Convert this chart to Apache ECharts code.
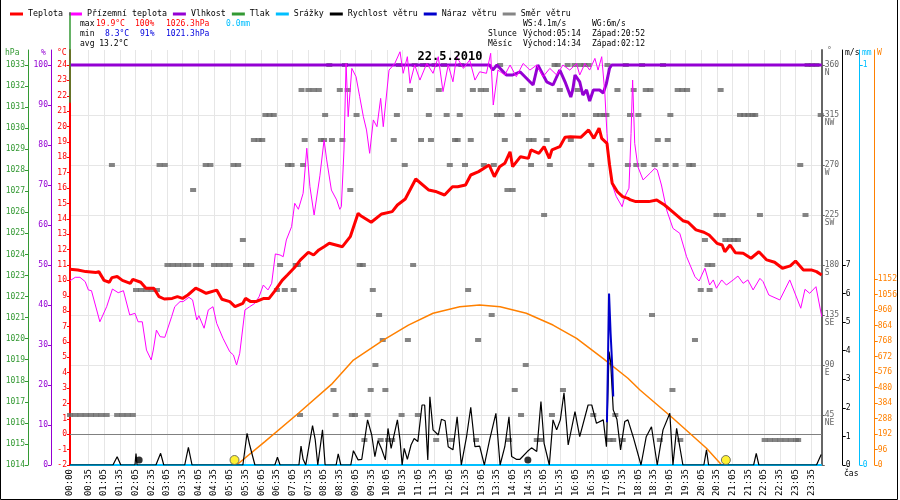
<!DOCTYPE html>
<html lang="cs">
<head>
<meta charset="UTF-8">
<title>Meteo 22.5.2010</title>
<script src="https://cdn.jsdelivr.net/npm/echarts@6.0.0/dist/echarts.min.js"></script>
<style>
html, body { margin: 0; padding: 0; background: #fff; }
#main { width: 900px; height: 500px; }
</style>
</head>
<body>
<div id="main"></div>
<script>
// popisky casove osy
var timeLabels = ['00:00','00:35','01:05','01:35','02:05','02:35','03:05','03:35','04:05','04:35','05:05','05:35',
  '06:05','06:35','07:05','07:35','08:05','08:35','09:05','09:35','10:05','10:35','11:05','11:35',
  '12:05','12:35','13:05','13:35','14:05','14:35','15:05','15:35','16:05','16:35','17:05','17:35',
  '18:05','18:35','19:05','19:35','20:05','20:35','21:05','21:35','22:05','22:35','23:05','23:35'];
var tempTicks = [-2,-1,0,1,2,3,4,5,6,7,8,9,10,11,12,13,14,15,16,17,18,19,20,21,22,23,24];
var humTicks = [0,10,20,30,40,50,60,70,80,90,100];
var pressTicks = [1014,1015,1016,1017,1018,1019,1020,1021,1022,1023,1024,1025,1026,1027,1028,1029,1030,1031,1032,1033];
var dirTicks = [0,45,90,135,180,225,270,315,360];
var dirNames = {45:'NE',90:'E',135:'SE',180:'S',225:'SW',270:'W',315:'NW',360:'N'};
var windTicks = [0,1,2,3,4,5,6,7];
var rainTicks = [0,1];
var radTicks = [0,96,192,288,384,480,576,672,768,864,960,1056,1152];

// Teplota [cas, °C]
var tempData = [['00:00',10.72],['00:15',10.68],['00:30',10.57],['00:50',10.52],['00:55',10.57],['01:05',10.0],['01:15',9.88],['01:20',10.18],
  ['01:30',10.25],['01:40',10.0],['01:55',9.81],['02:00',10.07],['02:15',9.88],['02:25',9.49],['02:40',9.49],['02:50',8.94],['03:00',8.79],
  ['03:15',8.83],['03:25',8.94],['03:35',8.83],['03:45',9.05],['04:00',9.49],['04:10',9.33],['04:20',9.16],['04:40',9.37],['04:50',8.77],
  ['05:05',8.62],['05:15',8.3],['05:30',8.51],['05:35',8.83],['05:45',8.62],['05:55',8.62],['06:10',8.83],['06:20',8.83],['06:30',9.27],
  ['06:45',10.0],['06:55',10.35],['07:10',10.89],['07:20',11.33],['07:35',11.83],['07:45',11.65],['07:55',11.98],['08:05',12.19],['08:15',12.41],
  ['08:40',12.19],['08:55',12.84],['09:10',14.36],['09:15',14.2],['09:35',13.78],['09:55',14.32],['10:15',14.47],['10:25',14.9],['10:40',15.29],
  ['11:00',16.59],['11:25',15.87],['11:40',15.76],['11:55',15.55],['12:10',16.09],['12:20',16.09],['12:35',16.2],['12:45',16.85],['13:00',17.07],
  ['13:20',17.5],['13:30',16.74],['13:40',17.39],['13:50',17.61],['14:00',18.36],['14:05',17.39],['14:20',18.04],['14:35',17.93],['14:40',18.48],
  ['14:55',18.26],['15:05',18.69],['15:15',17.93],['15:20',18.48],['15:35',18.69],['15:45',19.3],['15:55',19.34],['16:15',19.3],['16:30',19.78],
  ['16:40',19.23],['16:50',19.9],['16:55',19.23],['17:05',18.91],['17:10',17.5],['17:15',16.31],['17:25',15.76],['17:35',15.44],['17:45',15.33],
  ['17:50',15.23],['18:00',15.12],['18:25',15.12],['18:40',15.23],['18:55',14.9],['19:10',14.47],['19:30',13.88],['19:40',13.78],['19:55',13.28],
  ['20:10',13.13],['20:20',12.95],['20:35',12.41],['20:45',12.3],['20:50',11.86],['21:00',12.3],['21:10',11.8],['21:25',11.76],['21:40',11.44],
  ['21:55',11.86],['22:10',11.33],['22:25',11.18],['22:40',10.79],['22:55',10.94],['23:05',11.26],['23:20',10.68],['23:35',10.68],['23:45',10.57],['23:55',10.35]];

// Prizemni teplota [cas, °C]
var groundData = [['00:00',9.98],['00:10',10.2],['00:19',10.2],['00:29',9.92],['00:35',9.38],['00:41',9.33],['00:57',7.31],['01:00',7.25],
  ['01:10',8.29],['01:21',9.44],['01:32',9.2],['01:42',9.33],['01:54',7.75],['02:04',7.86],['02:10',7.31],['02:18',7.31],['02:26',5.47],
  ['02:35',4.83],['02:39',5.47],['02:45',6.77],['02:52',6.34],['03:01',6.3],['03:14',7.64],['03:20',8.29],['03:30',8.62],['03:36',8.62],
  ['03:47',8.9],['03:54',8.73],['04:02',7.43],['04:06',7.71],['04:16',6.89],['04:24',8.08],['04:33',8.29],['04:40',7.21],['04:52',6.24],
  ['05:05',5.36],['05:12',5.15],['05:18',4.5],['05:24',5.26],['05:34',8.08],['05:43',8.29],['05:53',8.51],['06:01',8.94],['06:09',9.7],
  ['06:18',9.38],['06:25',9.81],['06:32',11.72],['06:41',11.65],['06:47',11.54],['06:53',12.63],['07:03',13.49],['07:09',15.01],['07:16',14.62],
  ['07:25',15.66],['07:32',18.59],['07:38',16.09],['07:46',14.25],['07:57',16.8],['08:05',19.12],['08:10',17.83],['08:19',15.87],['08:29',15.23],
  ['08:35',14.62],['08:38',14.79],['08:43',18.48],['08:47',24.1],['08:51',20.64],['08:58',23.78],['09:06',23.24],['09:13',21.94],['09:20',20.64],
  ['09:26',19.78],['09:32',18.26],['09:39',20.43],['09:46',19.99],['09:53',21.83],['09:58',19.99],['10:09',23.67],['10:20',24.1],['10:30',24.86],
  ['10:36',23.46],['10:44',24.54],['10:49',22.81],['10:58',24.0],['11:08',23.02],['11:21',24.1],['11:33',23.46],['11:43',24.54],['11:52',22.27],
  ['12:02',24.0],['12:11',22.91],['12:18',24.54],['12:31',23.78],['12:43',24.32],['12:53',23.02],['13:02',23.56],['13:15',23.46],['13:23',24.76],
  ['13:28',21.4],['13:37',23.67],['13:50',23.35],['14:00',24.0],['14:12',23.24],['14:25',24.1],['14:38',23.67],['14:51',24.0],['15:03',23.24],
  ['15:16',23.78],['15:29',23.35],['15:41',24.0],['15:54',23.67],['16:07',24.1],['16:13',23.35],['16:23',24.1],['16:32',23.67],['16:42',24.43],
  ['16:48',23.67],['16:55',24.54],['17:01',22.16],['17:05',19.56],['17:09',17.61],['17:14',16.31],['17:23',15.44],['17:34',14.79],['17:39',15.44],
  ['17:47',15.99],['17:51',19.56],['17:54',23.02],['17:58',18.91],['18:04',17.39],['18:14',16.53],['18:27',16.96],['18:36',17.28],['18:41',17.18],
  ['18:49',16.2],['18:59',14.57],['19:11',13.38],['19:24',13.06],['19:37',11.54],['19:53',10.24],['20:01',9.96],['20:12',10.79],['20:21',9.7],
  ['20:28',10.03],['20:34',9.49],['20:44',10.03],['20:53',9.7],['21:06',10.03],['21:15',10.28],['21:25',9.81],['21:34',10.03],['21:44',9.38],
  ['21:57',10.13],['22:03',9.92],['22:14',9.05],['22:35',8.73],['22:54',10.03],['23:15',8.19],['23:23',9.42],['23:32',9.16],['23:44',9.59],['23:55',7.64]];

// Vlhkost [cas, %]
var humData = [['00:00',100],['13:21',100],['13:27',98.75],['13:35',100],['13:53',97.5],['14:05',97.5],['14:19',98.3],['14:44',95],
  ['14:53',100],['15:10',95.8],['15:22',95],['15:35',98.75],['15:45',95.8],['15:56',92],['16:00',94],['16:04',97.5],['16:13',95.8],
  ['16:19',92.5],['16:26',93.75],['16:32',91],['16:39',93.75],['16:51',93.75],['16:58',93],['17:04',95.4],['17:10',99.2],['17:14',100],['23:55',100]];

// Tlak [cas, hPa]
var pressData = [['00:00',1031.2],['00:00',1035.5]];

// Srazky [cas, mm]
var rainData = [['00:00',0],['23:55',0]];

// Rychlost vetru [cas, m/s]
var windData = [['00:00',0],['01:22',0],['01:30',0.29],['01:37',0],['02:04',0],['02:06',0.4],['02:08',0],['02:44',0],['02:53',0.41],
  ['02:59',0],['03:39',0],['03:46',0.62],['03:53',0],['05:30',0],['05:38',1.11],['05:43',0.7],['05:53',0],['06:31',0],['06:36',0.27],
  ['06:41',0],['07:17',0],['07:21',0.66],['07:25',0.2],['07:30',0],['07:43',1.38],['07:48',0.9],['07:53',0],['08:02',1.23],['08:07',0],
  ['08:28',0],['08:32',0.39],['08:37',0],['08:56',0],['09:01',0.5],['09:10',0.18],['09:17',0.2],['09:28',1.58],['09:36',1.05],['09:42',0.29],
  ['09:48',0.85],['09:55',0.55],['10:02',0.18],['10:07',1.28],['10:13',0.58],['10:16',0.6],['10:25',1.58],['10:30',0.88],['10:34',0],
  ['10:38',0.58],['10:44',0.2],['10:51',0.7],['10:57',0.93],['11:04',0.82],['11:12',2.1],['11:17',2.1],['11:23',0.18],['11:27',2.39],
  ['11:33',1.23],['11:43',1.05],['11:49',1.6],['11:56',1.55],['12:02',0.64],['12:11',0.53],['12:19',1.69],['12:27',0],['12:37',0.99],
  ['12:45',2.02],['12:53',0.64],['13:02',0.66],['13:11',0],['13:21',0.88],['13:33',1.81],['13:41',0],['13:50',0.64],['13:58',1.69],
  ['14:03',0.3],['14:12',0.2],['14:19',0.2],['14:33',0.47],['14:41',0.6],['14:51',0.47],['14:59',2.22],['15:05',0.76],['15:15',0],
  ['15:22',1.58],['15:29',1.23],['15:36',1.58],['15:43',2.53],['15:51',0.7],['16:04',1.87],['16:13',0.99],['16:29',2.1],['16:36',2.1],
  ['16:45',1.46],['16:58',1.58],['17:04',0.64],['17:09',3.97],['17:12',3.62],['17:17',1.93],['17:24',1.6],['17:31',0.53],['17:39',1.52],
  ['17:45',1.58],['17:55',0.99],['18:10',0],['18:20',0.99],['18:30',1.34],['18:41',0],['18:52',1.23],['19:05',1.81],['19:11',0],
  ['19:18',1.28],['19:30',0],['20:10',0],['20:15',0.53],['20:19',0],['21:45',0],['21:50',0.41],['21:55',0],['23:45',0],['23:54',0.37]];

// Naraz vetru [cas, m/s]
var gustData = [['17:05',1.5],['17:09',6.0],['17:12',4.6],['17:15',3.5],['17:17',2.4]];

// Smer vetru [cas, °]
var dirData = [['00:00',45],['00:10',45],['00:20',45],['00:30',45],['00:40',45],['00:50',45],['01:00',45],['01:10',45],['01:20',270],
  ['01:30',45],['01:40',45],['01:50',45],['02:00',45],['02:06',157.5],['02:16',157.5],['02:26',157.5],['02:36',157.5],['02:46',157.5],
  ['02:51',270],['03:01',270],['03:06',180],['03:16',180],['03:26',180],['03:36',180],['03:46',180],['03:55',247.5],['04:00',180],['04:10',180],
  ['04:19',270],['04:28',270],['04:35',180],['04:45',180],['04:55',180],['05:05',180],['05:12',270],['05:21',270],['05:30',202.5],
  ['05:36',180],['05:46',180],['05:51',292.5],['06:00',292.5],['06:07',292.5],['06:13',315],['06:21',315],['06:29',315],['06:35',157.5],
  ['06:41',180],['06:50',157.5],['06:56',270],['07:03',270],['07:07',157.5],['07:11',180],['07:15',180],['07:19',45],['07:22',337.5],
  ['07:25',270],['07:28',292.5],['07:35',337.5],['07:45',337.5],['07:55',337.5],['07:59',292.5],['08:05',292.5],['08:07',315],['08:15',360],
  ['08:20',292.5],['08:23',67.5],['08:27',45],['08:35',337.5],['08:40',292.5],['08:45',360],['08:50',337.5],['08:55',247.5],['08:58',45],
  ['09:04',45],['09:07',315],['09:13',180],['09:19',180],['09:22',22.5],['09:28',45],['09:34',67.5],['09:38',157.5],['09:43',90],['09:50',135],
  ['09:53',22.5],['09:57',112.5],['10:02',67.5],['10:07',22.5],['10:15',22.5],['10:18',292.5],['10:24',315],['10:28',360],['10:33',45],
  ['10:39',270],['10:45',112.5],['10:49',337.5],['10:55',180],['10:58',360],['11:04',45],['11:10',292.5],['11:14',360],['11:20',360],
  ['11:25',315],['11:29',292.5],['11:36',360],['11:39',22.5],['11:44',337.5],['11:54',360],['11:59',315],['12:05',270],['12:08',22.5],
  ['12:15',292.5],['12:20',292.5],['12:24',315],['12:27',360],['12:34',270],['12:40',157.5],['12:45',292.5],['12:49',337.5],['12:55',22.5],
  ['12:59',112.5],['13:04',337.5],['13:10',270],['13:14',337.5],['13:25',135],['13:29',270],['13:35',315],['13:41',360],['13:44',315],
  ['13:50',292.5],['13:55',247.5],['13:58',22.5],['14:05',247.5],['14:09',67.5],['14:15',315],['14:21',45],['14:24',337.5],['14:30',90],
  ['14:36',292.5],['14:40',270],['14:45',292.5],['14:51',22.5],['14:55',337.5],['14:58',22.5],['15:05',225],['15:10',292.5],['15:16',270],
  ['15:20',45],['15:25',360],['15:31',360],['15:35',337.5],['15:41',67.5],['15:45',315],['15:50',360],['15:56',292.5],['15:59',315],
  ['16:03',360],['16:09',337.5],['16:14',360],['16:22',360],['16:30',360],['16:35',270],['16:39',45],['16:44',315],['16:52',315],
  ['17:00',315],['17:04',315],['17:06',360],['17:10',22.5],['17:17',22.5],['17:21',45],['17:25',337.5],['17:31',292.5],['17:35',22.5],
  ['17:41',360],['17:45',270],['17:49',315],['17:56',337.5],['18:01',270],['18:05',315],['18:12',360],['18:15',270],['18:19',337.5],
  ['18:28',337.5],['18:31',135],['18:36',270],['18:42',292.5],['18:46',22.5],['18:52',360],['18:57',270],['19:01',292.5],['19:06',315],
  ['19:10',67.5],['19:16',270],['19:20',337.5],['19:25',22.5],['19:29',337.5],['19:38',337.5],['19:42',270],['19:49',270],['19:53',112.5],
  ['20:04',157.5],['20:12',202.5],['20:17',180],['20:21',157.5],['20:26',180],['20:34',225],['20:42',337.5],['20:46',225],['20:51',202.5],
  ['21:00',202.5],['21:08',202.5],['21:15',202.5],['21:19',315],['21:27',315],['21:35',315],['21:43',315],['21:48',315],['21:57',225],
  ['22:06',22.5],['22:16',22.5],['22:26',22.5],['22:36',22.5],['22:46',22.5],['22:56',22.5],['23:06',22.5],['23:10',22.5],['23:14',270],
  ['23:24',225],['23:28',360],['23:36',360],['23:45',360],['23:53',315]];

// slunecni zareni [cas, W]
var radData = [['05:18',0],['06:12',145],['07:16',321],['08:19',500],['09:01',651],['09:58',775],['10:46',868],['11:33',941],
  ['12:24',982],['13:02',993],['13:41',982],['14:31',941],['15:22',868],['16:07',785],['16:58',660],['17:45',538],['18:08',465],
  ['19:11',290],['20:15',104],['20:44',0]];

// vychod / zapad
var sunTimes = ['05:14','20:52'];
var moonTimes = ['02:12','14:34'];

var FONT = 'DejaVu Sans Mono';

function toMin(s) {
    var p = s.split(':');
    return parseInt(p[0], 10) * 60 + parseInt(p[1], 10);
}
function pairs(arr) {
    return arr.map(function(d) { return [toMin(d[0]), d[1]]; });
}
function hhmm(v) {
    var h = Math.floor(v / 60), m = v % 60;
    return (h < 10 ? '0' : '') + h + ':' + (m < 10 ? '0' : '') + m;
}
function plain(v) {
    return String(v);
}

var labelMins = timeLabels.map(toMin);

function yAx(o) {
    return {
        type: 'value',
        position: o.pos,
        offset: o.offset,
        min: o.min,
        max: o.max,
        axisLine: { show: true, onZero: false, lineStyle: { color: o.color, width: o.lw || 1 } },
        axisTick: { show: true, length: 3, customValues: o.ticks, lineStyle: { color: o.color } },
        axisLabel: {
            customValues: o.ticks,
            color: o.color,
            fontFamily: FONT,
            fontSize: 8,
            margin: 3,
            formatter: o.fmt || plain
        },
        splitLine: o.split ? { show: true, lineStyle: { color: '#e6e6e6', width: 1 } } : { show: false }
    };
}

function txt(x, y, text, color, font, align) {
    return {
        type: 'text', x: x, y: y, silent: true,
        style: { text: text, fill: color, font: font || ('8px ' + FONT), align: align || 'left', verticalAlign: 'middle' }
    };
}

var myChart = echarts.init(document.getElementById('main'));

var option = {
    backgroundColor: '#fff',
    animation: false,
    title: {
        text: '22.5.2010',
        left: 'center',
        top: 51,
        padding: 0,
        textStyle: { fontFamily: FONT, fontSize: 12, fontWeight: 'bold', color: '#000' }
    },
    legend: {
        left: 5,
        top: 5,
        icon: 'rect',
        itemWidth: 13,
        itemHeight: 3,
        itemGap: 6,
        textStyle: { fontFamily: FONT, fontSize: 8.3, color: '#000' },
        data: ['Teplota', 'Přízemní teplota', 'Vlhkost', 'Tlak', 'Srážky', 'Rychlost větru', 'Náraz větru', 'Směr větru']
    },
    grid: { left: 70, right: 78, top: 50, bottom: 35 },
    xAxis: {
        type: 'value',
        min: 0,
        max: 1435,
        axisLine: { show: false },
        axisTick: { show: false, customValues: labelMins },
        axisLabel: {
            customValues: labelMins,
            formatter: hhmm,
            rotate: 90,
            margin: 4,
            color: '#000',
            fontFamily: FONT,
            fontSize: 9
        },
        splitLine: { show: true, lineStyle: { color: '#e6e6e6', width: 1 } }
    },
    yAxis: [
        yAx({ pos: 'left', offset: 0, min: -2, max: 24.975, color: '#ff0000', lw: 2, ticks: tempTicks }),
        yAx({ pos: 'left', offset: 19, min: 0, max: 103.75, color: '#9400d3', ticks: humTicks }),
        yAx({ pos: 'left', offset: 42, min: 1014, max: 1033.71, color: '#339933', ticks: pressTicks }),
        yAx({ pos: 'right', offset: 0, min: 0, max: 373.5, color: '#666666', lw: 2, ticks: dirTicks, split: true,
              fmt: function(v) { return v === 0 ? '' : ' \n' + v + '\n' + dirNames[v]; } }),
        yAx({ pos: 'right', offset: 21, min: 0, max: 14.525, color: '#000000', ticks: windTicks }),
        yAx({ pos: 'right', offset: 38, min: 0, max: 1.0375, color: '#00bfff', ticks: rainTicks }),
        yAx({ pos: 'right', offset: 53, min: 0, max: 2574, color: '#ff8000', ticks: radTicks })
    ],
    series: [
        {
            name: 'Směr větru', type: 'scatter', yAxisIndex: 3, z: 2,
            symbol: 'rect', symbolSize: [6, 4],
            itemStyle: { color: '#666666' },
            data: pairs(dirData)
        },
        {
            name: 'Vlhkost', type: 'line', yAxisIndex: 1, z: 3,
            showSymbol: false, color: '#9400d3',
            lineStyle: { color: '#9400d3', width: 3 },
            data: pairs(humData)
        },
        {
            name: 'Přízemní teplota', type: 'line', yAxisIndex: 0, z: 4,
            showSymbol: false, color: '#ff00ff',
            lineStyle: { color: '#ff00ff', width: 1 },
            data: pairs(groundData)
        },
        {
            name: 'Teplota', type: 'line', yAxisIndex: 0, z: 5,
            showSymbol: false, color: '#ff0000',
            lineStyle: { color: '#ff0000', width: 3 },
            data: pairs(tempData),
            markLine: {
                silent: true, symbol: 'none', label: { show: false },
                lineStyle: { color: '#808080', width: 1, type: 'solid' },
                data: [{ yAxis: 0 }]
            }
        },
        {
            name: 'Slunce', type: 'line', yAxisIndex: 6, z: 5,
            showSymbol: false, color: '#ff8000',
            lineStyle: { color: '#ff8000', width: 1.5 },
            data: pairs(radData)
        },
        {
            name: 'Srážky', type: 'line', yAxisIndex: 5, z: 6,
            showSymbol: false, color: '#00bfff',
            lineStyle: { color: '#00bfff', width: 2 },
            data: pairs(rainData)
        },
        {
            name: 'Rychlost větru', type: 'line', yAxisIndex: 4, z: 7,
            showSymbol: false, color: '#000000',
            lineStyle: { color: '#000000', width: 1.2 },
            data: pairs(windData)
        },
        {
            name: 'Náraz větru', type: 'line', yAxisIndex: 4, z: 8,
            showSymbol: false, color: '#0000cc',
            lineStyle: { color: '#0000cc', width: 2 },
            data: pairs(gustData)
        },
        {
            name: 'Tlak', type: 'line', yAxisIndex: 2, z: 8, clip: false,
            showSymbol: false, color: '#339933',
            lineStyle: { color: '#339933', width: 1.5 },
            data: pairs(pressData)
        },
        {
            name: 'Východ slunce', type: 'scatter', yAxisIndex: 4, z: 9,
            symbol: 'circle', symbolSize: 9, symbolOffset: [0, -5],
            itemStyle: { color: '#ffee00', borderColor: '#555', borderWidth: 1 },
            data: sunTimes.map(function(t) { return [toMin(t), 0]; })
        },
        {
            name: 'Měsíc', type: 'scatter', yAxisIndex: 4, z: 9,
            symbol: 'circle', symbolSize: 7, symbolOffset: [0, -5],
            itemStyle: { color: '#000' },
            data: moonTimes.map(function(t) { return [toMin(t), 0]; })
        }
    ],
    graphic: [
        { type: 'polyline', silent: true, shape: { points: [[0.5, 0], [0.5, 499.5], [897.5, 499.5], [897.5, 0]] },
          style: { stroke: '#000', lineWidth: 1, fill: null } },
        txt(80, 24, 'max', '#000'),
        txt(96, 24, '19.9°C', '#ff0000'),
        txt(135, 24, '100%', '#ff0000'),
        txt(166, 24, '1026.3hPa', '#ff0000'),
        txt(226, 24, '0.0mm', '#00bfff'),
        txt(80, 34, 'min', '#000'),
        txt(105, 34, '8.3°C', '#0000dd'),
        txt(140, 34, '91%', '#0000dd'),
        txt(166, 34, '1021.3hPa', '#0000dd'),
        txt(80, 44, 'avg 13.2°C', '#000'),
        txt(523, 24, 'WS:4.1m/s', '#000'),
        txt(592, 24, 'WG:6m/s', '#000'),
        txt(488, 34, 'Slunce', '#000'),
        txt(523, 34, 'Východ:05:14', '#000'),
        txt(592, 34, 'Západ:20:52', '#000'),
        txt(488, 44, 'Měsíc', '#000'),
        txt(523, 44, 'Východ:14:34', '#000'),
        txt(592, 44, 'Západ:02:12', '#000'),
        txt(5, 53, 'hPa', '#339933'),
        txt(41, 53, '%', '#9400d3'),
        txt(57, 53, '°C', '#ff0000'),
        txt(827, 51, '°', '#666666'),
        txt(845, 53, 'm/s', '#000'),
        txt(862, 53, 'mm', '#00bfff'),
        txt(877, 53, 'W', '#ff8000'),
        txt(844, 474, 'čas', '#000')
    ]
};

myChart.setOption(option);
</script>
</body>
</html>
